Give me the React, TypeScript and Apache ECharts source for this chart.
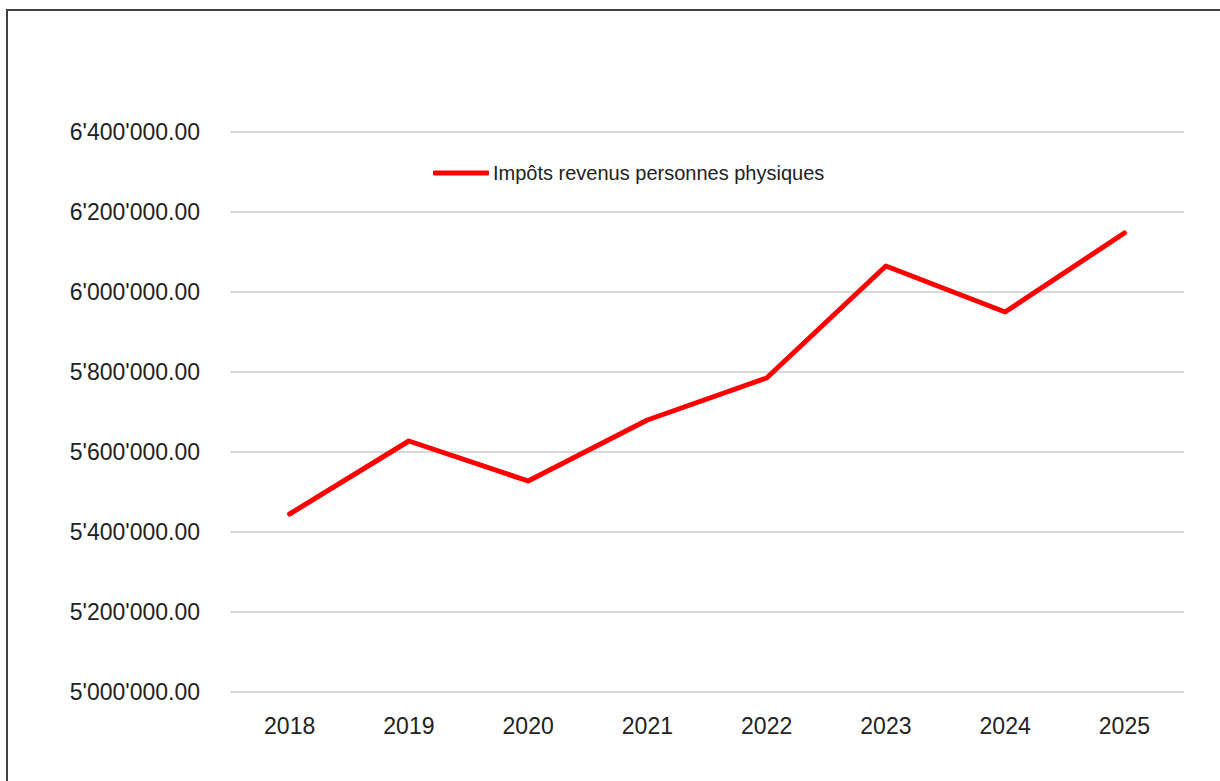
import React, { useEffect, useRef } from "react";
import * as echarts from "echarts";

const years = ["2018", "2019", "2020", "2021", "2022", "2023", "2024", "2025"];
const impotsRevenus = [5445000, 5627500, 5527500, 5680000, 5785000, 6065000, 5950000, 6147500];
const seriesName = "Impôts revenus personnes physiques";
const yMin = 5000000;
const yMax = 6400000;
const yStep = 200000;

const FONT = "'Liberation Sans Narrow', 'Arial Narrow', 'Liberation Sans', Arial, sans-serif";

function fmt(v: number): string {
  const s = Math.round(v).toString().replace(/\B(?=(\d{3})+(?!\d))/g, "'");
  return s + ".00";
}

export default function App() {
  const ref = useRef<HTMLDivElement>(null);
  useEffect(() => {
    document.body.style.margin = "0";
    if (!ref.current) return;
    const chart = echarts.init(ref.current, undefined, { renderer: "svg" });
    chart.setOption({
      animation: false,
      backgroundColor: "#ffffff",
      graphic: [
        {
          type: "rect",
          shape: { x: 7, y: 10, width: 1400, height: 1000 },
          style: { fill: "none", stroke: "#404040", lineWidth: 2 },
          silent: true,
        },
      ],
      legend: {
        data: [{ name: seriesName, icon: "roundRect" }],
        left: 428,
        top: 158,
        itemWidth: 56,
        itemHeight: 5,
        textStyle: { fontFamily: FONT, fontSize: 20, color: "#222222", padding: [0, 0, 0, -1] },
      },
      grid: { left: 230, right: 36, top: 132, bottom: 89, containLabel: false },
      xAxis: {
        type: "category",
        data: years,
        boundaryGap: true,
        axisLine: { show: false },
        axisTick: { show: false },
        axisLabel: { fontFamily: FONT, fontSize: 23, color: "#222222", margin: 22 },
      },
      yAxis: {
        type: "value",
        min: yMin,
        max: yMax,
        interval: yStep,
        axisLine: { show: false },
        axisTick: { show: false },
        splitLine: { lineStyle: { color: "#d9d9d9", width: 2 } },
        axisLabel: {
          fontFamily: FONT,
          fontSize: 23,
          color: "#222222",
          margin: 30,
          formatter: (v: number) => fmt(v),
        },
      },
      series: [
        {
          name: seriesName,
          type: "line",
          data: impotsRevenus,
          symbol: "none",
          lineStyle: { color: "#ff0000", width: 5, cap: "round", join: "round" },
          itemStyle: { color: "#ff0000" },
        },
      ],
    });
    return () => chart.dispose();
  }, []);
  return <div ref={ref} style={{ width: 1220, height: 781 }} />;
}
